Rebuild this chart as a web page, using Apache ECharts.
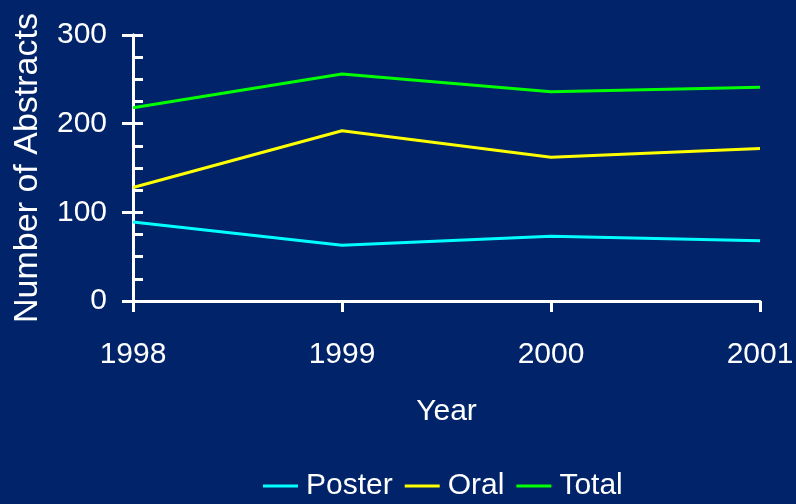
<!DOCTYPE html>
<html>
<head>
<meta charset="utf-8">
<script src="https://cdn.jsdelivr.net/npm/echarts@6/dist/echarts.min.js"></script>
<style>
  html, body { margin: 0; padding: 0; background: #002369; }
</style>
</head>
<body>
<div id="main" style="width: 796px; height: 504px"></div>
<script>
// data
const years = ['1998', '1999', '2000', '2001']
const poster = [89, 63, 73, 68]
const oral = [128, 192, 162, 172]
const total = [218, 256, 236, 241]
const yTicks = [0, 100, 200, 300]

const FONT = '"Liberation Sans", Arial, sans-serif'
const white = '#ffffff'

var myChart = echarts.init(document.getElementById('main'))

var option = {
  backgroundColor: '#002369',
  animation: false,
  grid: { left: 133, right: 36, top: 35, bottom: 203, outerBoundsMode: 'none' },
  legend: {
    left: 258,
    top: 466,
    icon: 'rect',
    itemWidth: 35,
    itemHeight: 3,
    itemGap: 12,
    textStyle: { color: white, fontFamily: FONT, fontSize: 30, padding: [0, 0, 0, 3] },
    data: ['Poster', 'Oral', 'Total']
  },
  xAxis: {
    type: 'category',
    data: years,
    boundaryGap: false,
    name: 'Year',
    nameLocation: 'middle',
    nameGap: 96,
    nameTextStyle: { color: white, fontFamily: FONT, fontSize: 30 },
    axisLine: { lineStyle: { color: white, width: 3 } },
    axisTick: { show: true, length: 11, lineStyle: { color: white, width: 3 } },
    axisLabel: { color: white, fontFamily: FONT, fontSize: 30, margin: 39 },
    splitLine: { show: false }
  },
  yAxis: [
    {
      type: 'value',
      min: yTicks[0],
      max: yTicks[yTicks.length - 1],
      interval: 100,
      name: 'Number of Abstracts',
      nameLocation: 'middle',
      nameGap: 88,
      nameTextStyle: { color: white, fontFamily: FONT, fontSize: 34 },
      axisLine: { show: true, lineStyle: { color: white, width: 3 } },
      axisTick: { show: true, inside: true, length: 10, lineStyle: { color: white, width: 3 } },
      minorTick: { show: true, splitNumber: 4, length: 10, lineStyle: { color: white, width: 3 } },
      axisLabel: { color: white, fontFamily: FONT, fontSize: 30, margin: 26 },
      splitLine: { show: false }
    },
    {
      // outer half of the major ticks
      type: 'value',
      position: 'left',
      min: yTicks[0],
      max: yTicks[yTicks.length - 1],
      interval: 100,
      axisLine: { show: true, lineStyle: { color: white, width: 3 } },
      axisTick: { show: true, length: 11, lineStyle: { color: white, width: 3 } },
      axisLabel: { show: false },
      splitLine: { show: false }
    }
  ],
  series: [
    { name: 'Poster', type: 'line', data: poster, showSymbol: false, lineStyle: { color: '#00ffff', width: 3 }, itemStyle: { color: '#00ffff' } },
    { name: 'Oral', type: 'line', data: oral, showSymbol: false, lineStyle: { color: '#ffff00', width: 3 }, itemStyle: { color: '#ffff00' } },
    { name: 'Total', type: 'line', data: total, showSymbol: false, lineStyle: { color: '#00ff00', width: 3 }, itemStyle: { color: '#00ff00' } }
  ]
}

myChart.setOption(option)
</script>
</body>
</html>
